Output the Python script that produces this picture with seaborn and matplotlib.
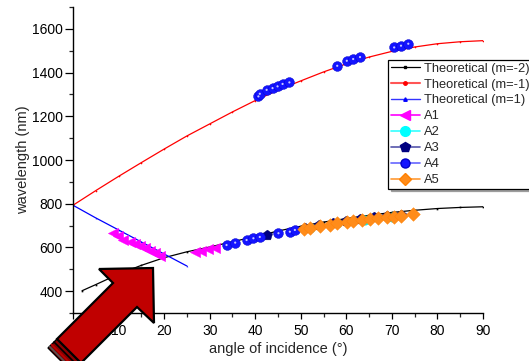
import matplotlib
matplotlib.use("Agg")
import matplotlib.pyplot as plt
from matplotlib.lines import Line2D
from matplotlib.patches import Polygon
from matplotlib.ticker import MultipleLocator
import seaborn as sns
import pandas as pd

# ---------------- data ----------------
theo_m_neg2_x = [2, 5, 10, 15, 20, 25, 30, 35, 40, 45, 50, 55, 60, 65, 70, 75, 80, 85, 90]
theo_m_neg2_y = [402, 430, 478, 518, 553, 580, 602, 626, 650, 675, 697, 716, 732, 747, 760, 770, 778, 783, 786]

theo_m_neg1_x = [0, 5, 10, 15, 20, 25, 30, 35, 40, 45, 50, 55, 60, 65, 70, 75, 80, 85, 90]
theo_m_neg1_y = [793, 860, 925, 988, 1050, 1110, 1165, 1220, 1272, 1320, 1362, 1403, 1440, 1471, 1497, 1517, 1532, 1541, 1546]

theo_m_pos1_x = [0, 5, 10, 15, 20, 25]
theo_m_pos1_y = [793, 735, 680, 625, 570, 515]

A1_x = [8.8, 9.9, 11.0, 12.5, 13.6, 14.7, 15.8, 16.9, 18.0, 19.1, 26.8, 28.2, 29.7, 31.2]
A1_y = [665, 650, 634, 627, 616, 607, 596, 585, 573, 561, 581, 585, 592, 599]

A2_x = [52.0, 58.0, 64.0, 70.0]
A2_y = [688, 711, 727, 740]

A3_x = [42.5, 51.0, 54.0, 57.0, 60.0, 63.0, 66.0, 69.0, 72.0]
A3_y = [657, 690, 702, 711, 720, 729, 737, 742, 748]

A4_x = [33.7, 35.6, 38.1, 39.6, 41.0, 45.1, 47.6, 48.7,
        40.7, 41.0, 42.5, 43.8, 44.9, 46.0, 47.5,
        58.0, 60.1, 61.5, 63.0, 70.5, 72.0, 73.6]
A4_y = [611, 622, 634, 642, 648, 665, 672, 680,
        1291, 1303, 1321, 1329, 1337, 1348, 1355,
        1431, 1454, 1462, 1471, 1515, 1523, 1532]

A5_x = [50.6, 52.0, 54.2, 56.4, 58.0, 60.1, 61.5, 63.4, 65.2, 67.0, 69.0, 70.5, 72.1, 74.6]
A5_y = [683, 688, 699, 703, 711, 715, 721, 726, 730, 736, 737, 741, 744, 752]

legend_labels = ["Theoretical (m=-2)", "Theoretical (m=-1)", "Theoretical (m=1)",
                 "A1", "A2", "A3", "A4", "A5"]

# ---------------- styling ----------------
sns.set_style("ticks")
plt.rcParams["font.family"] = ["Liberation Sans", "DejaVu Sans"]

W, H = 529, 361
fig = plt.figure(figsize=(W / 100, H / 100), dpi=100)
ax = fig.add_axes([73 / W, 1 - 313 / H, (483 - 73) / W, (313 - 7) / H])

# theoretical curves
for xs, ys, col, mk in [(theo_m_neg2_x, theo_m_neg2_y, "black", "s"),
                        (theo_m_neg1_x, theo_m_neg1_y, "red", "o"),
                        (theo_m_pos1_x, theo_m_pos1_y, "blue", "^")]:
    sns.lineplot(x=xs, y=ys, ax=ax, color=col, linewidth=0.9, sort=False,
                 estimator=None, marker=mk, markersize=1.2, markeredgewidth=0,
                 legend=False, zorder=2)

# experimental series
sns.scatterplot(x=A1_x, y=A1_y, ax=ax, marker="<", s=55, color="#ff00ff",
                edgecolor="#ff00ff", linewidth=0.3, legend=False, zorder=3)
sns.scatterplot(x=A2_x, y=A2_y, ax=ax, marker="o", s=45, color="#00ffff",
                edgecolor="#00cccc", linewidth=0.3, legend=False, zorder=3)
sns.scatterplot(x=A3_x, y=A3_y, ax=ax, marker="p", s=60, color="#000080",
                edgecolor="#000060", linewidth=0.3, legend=False, zorder=4)
sns.scatterplot(x=A4_x, y=A4_y, ax=ax, marker="o", s=50, color="#1414ff",
                edgecolor="#0000c8", linewidth=0.3, legend=False, zorder=5)
sns.scatterplot(x=A4_x, y=A4_y, ax=ax, marker="o", s=2.5, color="#c8c8ff",
                edgecolor="none", linewidth=0, legend=False, zorder=6)
sns.scatterplot(x=A5_x, y=A5_y, ax=ax, marker="D", s=48, color="#ff8c1a",
                edgecolor="#ff8000", linewidth=0.3, legend=False, zorder=7)

# axes
ax.set_xlim(0, 90)
ax.set_ylim(300, 1700)
ax.xaxis.set_major_locator(MultipleLocator(10))
ax.xaxis.set_minor_locator(MultipleLocator(5))
ax.yaxis.set_major_locator(MultipleLocator(200))
ax.yaxis.set_minor_locator(MultipleLocator(100))
sns.despine(ax=ax)
for sp in ("left", "bottom"):
    ax.spines[sp].set_color("black")
    ax.spines[sp].set_linewidth(1.0)
ax.tick_params(axis="x", which="major", direction="out", length=4, width=0.9,
               pad=4, labelsize=10, colors="black")
ax.tick_params(axis="x", which="minor", direction="out", length=3, width=0.9)
ax.tick_params(axis="y", which="major", direction="out", length=6, width=0.9,
               pad=1.5, labelsize=10, colors="black")
ax.tick_params(axis="y", which="minor", direction="out", length=3, width=0.9)
ax.set_xlabel("angle of incidence (°)", fontsize=10.5, labelpad=3)
ax.set_ylabel("wavelength (nm)", fontsize=10.5, labelpad=1)

# legend
handles = [
    Line2D([], [], color="black", lw=0.9, marker="s", ms=2),
    Line2D([], [], color="#ff5555", lw=1.5, marker="o", ms=2.5, mfc="red", mec="red"),
    Line2D([], [], color="#3333ff", lw=1.0, marker="^", ms=2.5, mfc="blue", mec="blue"),
    Line2D([], [], color="#ff00ff", lw=1.2, marker="<", ms=7),
    Line2D([], [], color="#33ffff", lw=1.2, marker="o", ms=7, mfc="#00ffff", mec="#00ffff"),
    Line2D([], [], color="#5555aa", lw=1.2, marker="p", ms=7, mfc="#000080", mec="#000080"),
    Line2D([], [], color="#6666ff", lw=1.2, marker="o", ms=6.5, mfc="#1414ff", mec="#0000c8"),
    Line2D([], [], color="#ff9933", lw=1.2, marker="D", ms=6, mfc="#ff8c1a", mec="#ff8000"),
]
leg = fig.legend(handles, legend_labels, loc="upper left",
                 bbox_to_anchor=(388 / W, 1 - 60 / H, 160 / W, 0),
                 bbox_transform=fig.transFigure, mode="expand",
                 fontsize=9.3, frameon=True, fancybox=False,
                 shadow={"color": "#909090", "alpha": 0.8},
                 edgecolor="black", framealpha=1, borderpad=0.2,
                 labelspacing=0.3, handlelength=2.3, handletextpad=0.25,
                 borderaxespad=0)
leg.get_frame().set_linewidth(0.9)

# big red annotation arrow (figure pixel coordinates, origin top-left)
def px(pts):
    return [(x / W, 1 - y / H) for x, y in pts]

tip = (153, 268)
wing1 = (99, 269)
notch1 = (113, 283)
notch2 = (137, 307)
wing2 = (154, 323)
t = 56
tail1 = (notch1[0] - t, notch1[1] + t)
tail2 = (notch2[0] - t, notch2[1] + t)
d = 9
ext1 = (tail1[0] - d, tail1[1] + d)
ext2 = (tail2[0] - d, tail2[1] + d)

fig.patches.append(Polygon(px([tail1, tail2, ext2, ext1]), closed=True,
                           transform=fig.transFigure, facecolor="#8a0000",
                           edgecolor="black", linewidth=1.0, zorder=10))
for k, c in [(3, "black"), (5.5, "#c00000"), (7.5, "#555555")]:
    a = (tail1[0] - k, tail1[1] + k)
    b = (tail2[0] - k, tail2[1] + k)
    fig.lines.append(Line2D([a[0] / W, b[0] / W], [1 - a[1] / H, 1 - b[1] / H],
                            transform=fig.transFigure, color=c, lw=1.2, zorder=11))
fig.patches.append(Polygon(px([tip, wing2, notch2, tail2, tail1, notch1, wing1]),
                           closed=True, transform=fig.transFigure,
                           facecolor="#c00000", edgecolor="black",
                           linewidth=1.6, joinstyle="miter", zorder=12))

fig.savefig("out.png", dpi=100)
